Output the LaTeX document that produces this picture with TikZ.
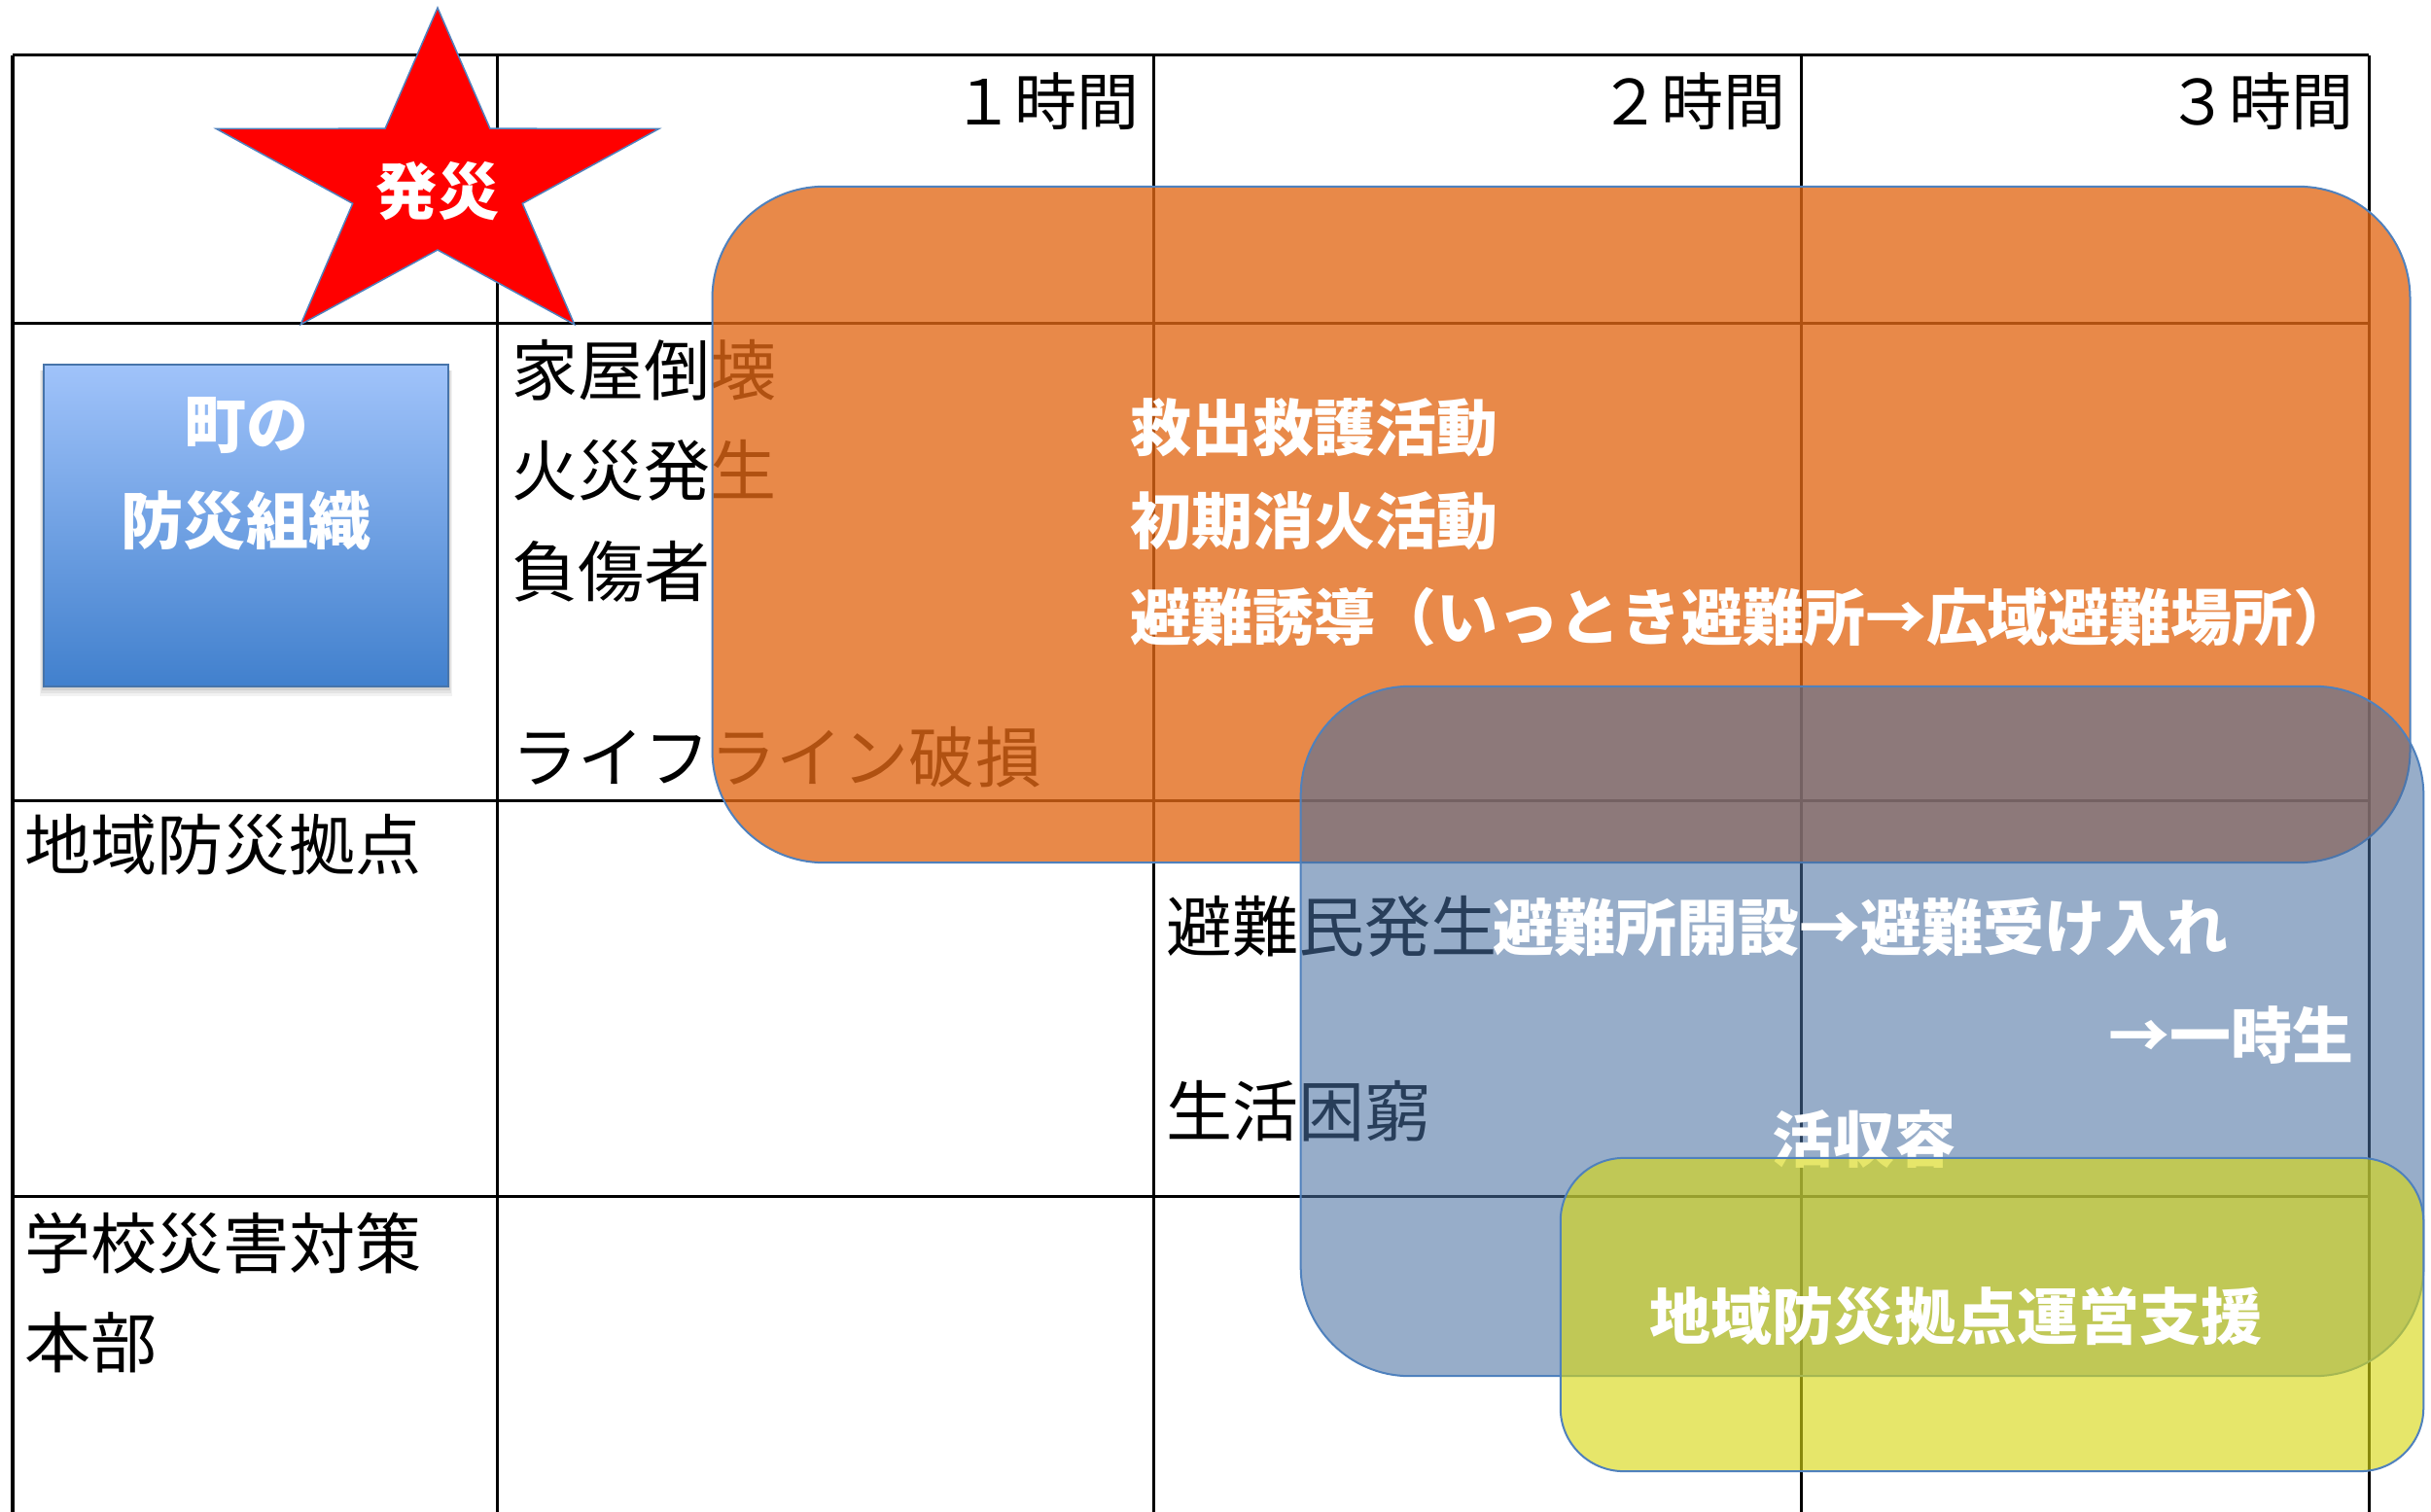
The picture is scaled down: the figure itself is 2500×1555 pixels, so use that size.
\documentclass[tikz,border=0pt]{standalone}
\usepackage{fontspec}
\newfontfamily\jp{Noto Sans CJK JP}
\usetikzlibrary{shadows}
\definecolor{orangeF}{RGB}{226,104,23}
\definecolor{blueF}{RGB}{71,110,161}
\definecolor{yellowF}{RGB}{216,216,20}
\definecolor{edgeB}{RGB}{79,129,189}
\definecolor{gradTop}{RGB}{160,195,250}
\definecolor{gradBot}{RGB}{65,128,205}
\definecolor{starRed}{RGB}{255,0,0}
\tikzset{
  tbl/.style={line width=0.03cm, black},
  blk/.style={font=\jp\fontsize{19.35pt}{20pt}\selectfont, inner sep=0pt, text=black},
  hdr/.style={font=\jp\fontsize{18.2pt}{19pt}\selectfont, inner sep=0pt, text=black, anchor=east},
  wht/.style={font=\jp\bfseries\fontsize{17.9pt}{19pt}\selectfont, inner sep=0pt, text=white},
  band/.style={draw=edgeB, line width=0.02cm, rectangle, inner sep=0pt},
}
\begin{document}
\begin{tikzpicture}[x=0.01cm,y=-0.01cm]
\useasboundingbox (0,0) rectangle (2500,1555);
\fill[white] (0,0) rectangle (2500,1555);

% table grid
\draw[tbl] (13,57) -- (2436,57);
\draw[tbl] (13,333) -- (2436,333);
\draw[tbl] (13,823) -- (2436,823);
\draw[tbl] (13,1230) -- (2436,1230);
\foreach \xx in {13,511,1186,1852,2436} \draw[tbl] (\xx,57) -- (\xx,1555);

% header
\node[hdr] (h1) at (1172,104) {１時間};
\node[hdr] (h2) at (1837,104) {２時間};
\node[hdr] (h3) at (2421,104) {３時間};

% left column
\node[blk, anchor=west] (l1) at (25,869) {地域防災拠点};
\node[blk, anchor=west] (l2) at (25,1279) {学校災害対策};
\node[blk, anchor=west] (l3) at (25,1381) {本部};

% row 1 events
\node[blk, anchor=west] (e1) at (526,381) {家屋倒壊};
\node[blk, anchor=west] (e2) at (526,484) {火災発生};
\node[blk, anchor=west] (e3) at (526,588) {負傷者};
\node[blk, anchor=west] (e4) at (526,779) {ライフライン破損};

% row 2 events
\node[blk, anchor=west] (e5) at (1199,953) {避難民発生};
\node[blk, anchor=west] (e6) at (1199,1143) {生活困窮};

% star
\draw[fill=starRed, draw=edgeB, line width=0.015cm, line join=miter]
  (450,8) -- (503.9,132.2) -- (677.7,132.4) -- (537.3,209.3) -- (590.7,333.6)
  -- (450,257) -- (309.3,333.6) -- (362.7,209.3) -- (222.3,132.4) -- (396.1,132.2) -- cycle;
\node[wht, font=\jp\bfseries\fontsize{18pt}{19pt}\selectfont] (star) at (450,197) {発災};

% organisation box with soft shadow
\foreach \o/\s in {0.05/7,0.06/5,0.07/3}
  \fill[black, opacity=\o] (45-\s*0.6,381) rectangle (461+\s*0.6,706+\s*1.4);
\node[rectangle, draw=edgeB!90!black, line width=0.015cm, top color=gradTop, bottom color=gradBot,
      minimum width=4.16cm, minimum height=3.31cm, inner sep=0pt] (org) at (253,540.5) {};
\node[wht, font=\jp\bfseries\fontsize{18.2pt}{19pt}\selectfont] (org1) at (253,438) {町の};
\node[wht, font=\jp\bfseries\fontsize{18.2pt}{19pt}\selectfont] (org2) at (253,535) {防災組織};

% orange band
\node[band, fill=orangeF, fill opacity=0.78, rounded corners=1.15cm,
      minimum width=17.45cm, minimum height=6.95cm] (ob) at (1605.5,539.5) {};
\node[wht, anchor=west] (o1) at (1162,440) {救出救護活動};
\node[wht, anchor=west] (o2) at (1162,536) {初期消火活動};
\node[wht, anchor=west] (o3) at (1162,635) {避難誘導（いっとき避難所→広域避難場所）};

% blue band
\node[band, fill=blueF, fill opacity=0.565, rounded corners=1.12cm,
      minimum width=11.54cm, minimum height=7.09cm] (bb) at (1915,1060.5) {};
\node[wht, anchor=west] (b1) at (1535,953) {避難所開設→避難受け入れ};
\node[wht, anchor=east] (b2) at (2421,1065) {→一時生};
\node[wht, anchor=west] (b3) at (1822,1172) {活収容};

% yellow band
\node[band, fill=yellowF, fill opacity=0.63, rounded corners=0.65cm,
      minimum width=8.87cm, minimum height=3.22cm] (yb) at (2048.5,1352) {};
\node[wht, anchor=west] (y1) at (1696,1354) {地域防災拠点運営支援};
\end{tikzpicture}
\end{document}
